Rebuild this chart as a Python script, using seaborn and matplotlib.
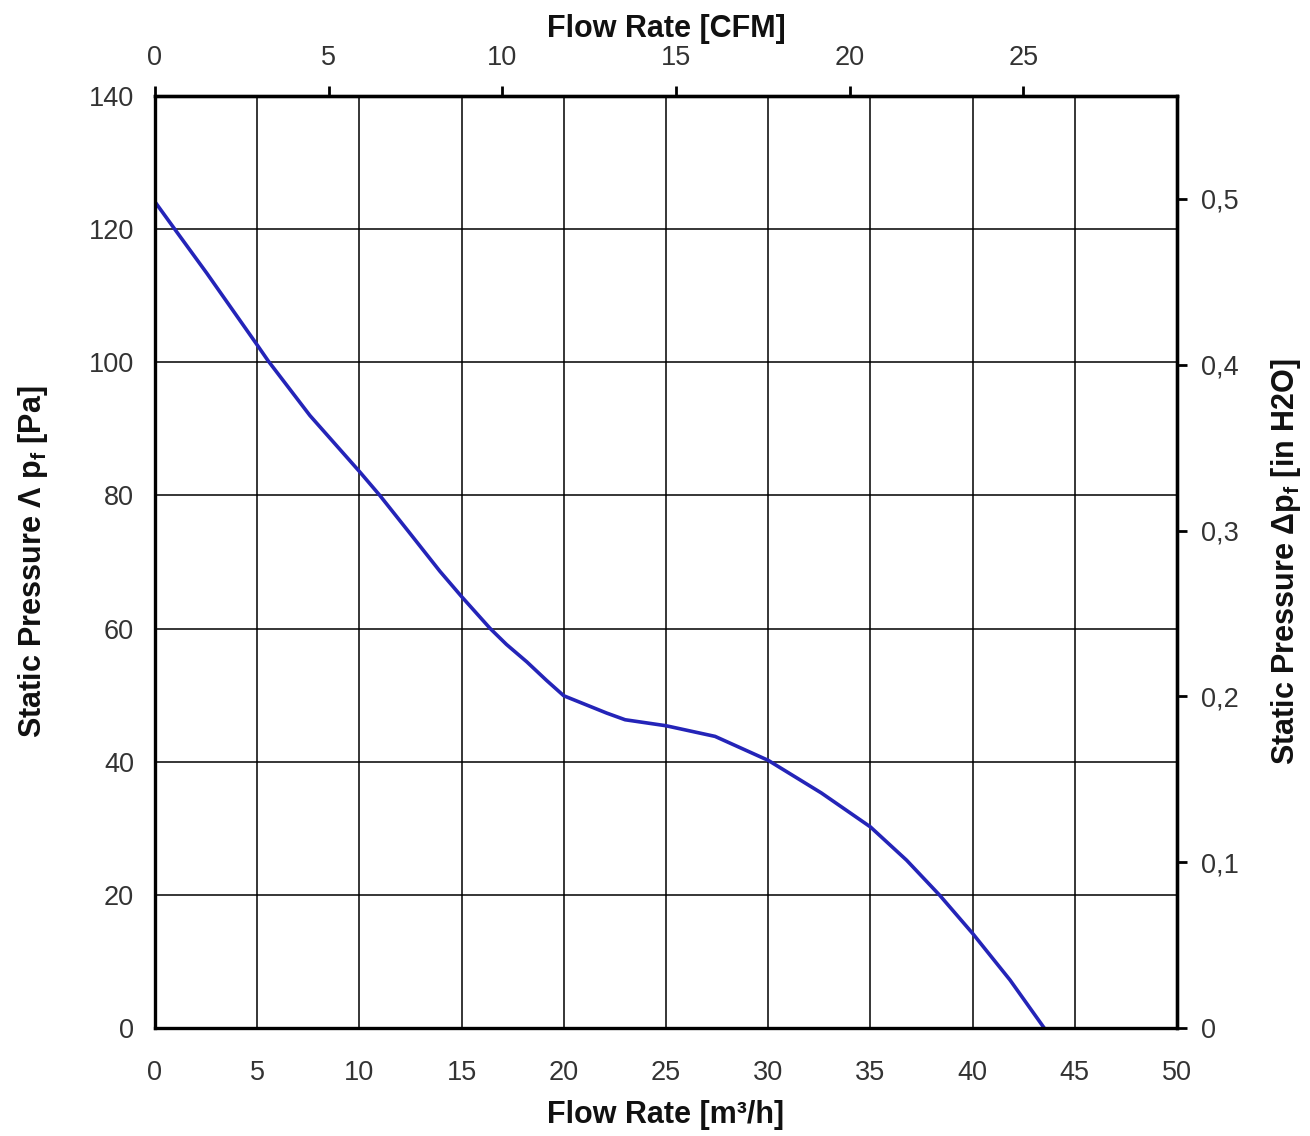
import matplotlib
matplotlib.use("Agg")
import matplotlib.pyplot as plt
import matplotlib.ticker as mticker
from matplotlib.font_manager import FontProperties
import seaborn as sns
import pandas as pd

# Data
flow_m3h = [0, 1.06, 2.53, 5, 5.54, 7.58, 10, 11, 12.5, 13.94, 15, 16.4, 17.2,
            18.19, 19.16, 20, 22.1, 23, 25, 27.4, 30, 32.6, 35, 36.77, 38.4,
            40, 41.83, 43.5]
pressure_pa = [124.1, 119.6, 113.4, 102.6, 100.2, 92.0, 83.6, 80, 74.2, 68.6,
               64.8, 60, 57.6, 55.0, 52.2, 49.9, 47.3, 46.3, 45.4, 43.8, 40.2,
               35.3, 30.2, 25.2, 19.9, 14.2, 7.2, 0]
x_ticks = [0, 5, 10, 15, 20, 25, 30, 35, 40, 45, 50]
y_ticks = [0, 20, 40, 60, 80, 100, 120, 140]
cfm_ticks = [0, 5, 10, 15, 20, 25]
inh2o_ticks = [0, 0.1, 0.2, 0.3, 0.4, 0.5]

M3H_PER_CFM = 1.699
PA_PER_INH2O = 249.09

sns.set_theme(style="white")
plt.rcParams["font.family"] = ["Liberation Sans", "DejaVu Sans"]
plt.rcParams["mathtext.fontset"] = "custom"
plt.rcParams["mathtext.rm"] = "Liberation Sans"
plt.rcParams["mathtext.bf"] = "Liberation Sans:bold"

tick_fp = FontProperties(family=["Liberation Sans Narrow", "Liberation Sans"], size=19.5)
tick_color = "#333333"
label_font = dict(family=["Liberation Sans", "DejaVu Sans"], size=22, weight="bold", color="#111111")


def style_ticklabels(labels):
    for lab in labels:
        lab.set_fontproperties(tick_fp)
        lab.set_color(tick_color)


df = pd.DataFrame({"flow": flow_m3h, "pressure": pressure_pa})

fig = plt.figure(figsize=(13.10, 11.36), dpi=100)
ax = fig.add_axes([0.1183, 0.0951, 0.8985 - 0.1183, 0.9155 - 0.0951])

sns.lineplot(data=df, x="flow", y="pressure", ax=ax, color="#2424b8", linewidth=2.6)

ax.set_xlim(0, 50)
ax.set_ylim(0, 140)
ax.set_xticks(x_ticks)
ax.set_yticks(y_ticks)
ax.grid(True, color="black", linewidth=1.1)
for s in ax.spines.values():
    s.set_linewidth(2.4)
    s.set_color("black")
ax.tick_params(axis="x", direction="out", length=7, width=2, color="black", pad=16)
ax.tick_params(axis="y", direction="out", length=7, width=2, color="black", pad=8)
style_ticklabels(ax.get_xticklabels() + ax.get_yticklabels())

ax.set_xlabel("Flow Rate [m³/h]", labelpad=10, **label_font)
ax.set_ylabel(r"Static Pressure Λ p$_{\mathbf{f}}$ [Pa]", labelpad=28, **label_font)

# Top CFM axis
secx = ax.secondary_xaxis("top", functions=(lambda v: v / M3H_PER_CFM, lambda v: v * M3H_PER_CFM))
secx.set_xticks(cfm_ticks)
secx.tick_params(direction="out", length=7, width=2, color="black", pad=11)
secx.spines["top"].set_linewidth(2.4)
style_ticklabels(secx.get_xticklabels())
secx.set_xlabel("Flow Rate [CFM]", labelpad=6, **label_font)

# Right inH2O axis
secy = ax.secondary_yaxis("right", functions=(lambda v: v / PA_PER_INH2O, lambda v: v * PA_PER_INH2O))
secy.set_yticks(inh2o_ticks)
secy.yaxis.set_major_formatter(mticker.FuncFormatter(
    lambda v, p: "0" if abs(v) < 1e-9 else f"{v:.1f}".replace(".", ",")))
secy.tick_params(direction="out", length=7, width=2, color="black", pad=10)
secy.spines["right"].set_linewidth(2.4)
style_ticklabels(secy.get_yticklabels())
secy.set_ylabel(r"Static Pressure Δp$_{\mathbf{f}}$ [in H2O]", labelpad=22, **label_font)

fig.savefig("out.png", dpi=100, facecolor="white")
